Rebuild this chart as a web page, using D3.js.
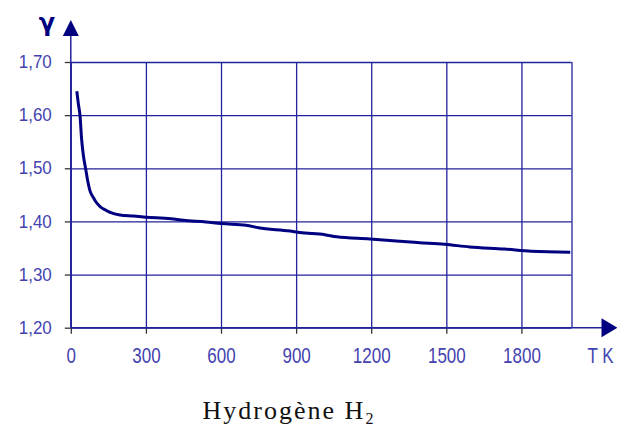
<!DOCTYPE html>
<html>
<head>
<meta charset="utf-8">
<script src="https://cdn.jsdelivr.net/npm/d3@7"></script>
<style>
  body { margin: 0; background: #fff; }
  svg { display: block; }
</style>
</head>
<body>
<div id="chart"></div>
<script>
// temperature (K) and gamma
var temps = [24, 30, 37, 43, 50, 59, 68, 77, 90, 100, 117, 140, 157, 196, 250, 300, 400, 450, 540, 600, 700, 750, 875, 915, 1015, 1062, 1194, 1300, 1393, 1493, 1593, 1732, 1839, 1995];
var gammas = [1.645, 1.622, 1.598, 1.556, 1.525, 1.500, 1.475, 1.457, 1.445, 1.437, 1.428, 1.421, 1.417, 1.412, 1.410, 1.408, 1.405, 1.402, 1.399, 1.396, 1.393, 1.388, 1.382, 1.379, 1.375, 1.371, 1.367, 1.363, 1.360, 1.357, 1.352, 1.348, 1.344, 1.342];
var xTicks = [0, 300, 600, 900, 1200, 1500, 1800];
var yTicks = [1.20, 1.30, 1.40, 1.50, 1.60, 1.70];

var W = 617, H = 428;
var margin = {top: 62, right: 45.5, bottom: 100.3, left: 70.8};
var width = W - margin.left - margin.right,
    height = H - margin.top - margin.bottom;

var gridCol = "#22229a", labelCol = "#4343b0", curveCol = "#000080";

var svg = d3.select("#chart").append("svg")
    .attr("width", W).attr("height", H)
    .append("g")
    .attr("transform", "translate(" + margin.left + "," + margin.top + ")");

var x = d3.scaleLinear().domain([0, 2000]).range([0, width]);
var y = d3.scaleLinear().domain([1.20, 1.70]).range([height, 0]);

// horizontal grid + left ticks
svg.append("g")
    .call(d3.axisLeft(y).tickValues(yTicks).tickSize(-width).tickPadding(19)
        .tickFormat(function (d) { return d3.format(".2f")(d).replace(".", ","); }))
    .call(function (g) {
        g.select(".domain").remove();
        g.selectAll(".tick line").attr("stroke", gridCol).attr("stroke-width", 1.3);
        g.selectAll(".tick").append("line")
            .attr("x1", -6).attr("x2", 0).attr("stroke", "#333").attr("stroke-width", 1.3);
        g.selectAll(".tick text").attr("fill", labelCol)
            .style("font-family", "Liberation Sans, Arial, sans-serif").style("font-size", "17px")
            .attr("transform", "scale(1,1.1)").attr("dy", "0.3em");
    });

// vertical grid + bottom ticks (2000 is the right border, no label)
svg.append("g")
    .attr("transform", "translate(0," + height + ")")
    .call(d3.axisBottom(x).tickValues(xTicks.concat([2000])).tickSize(-height)
        .tickFormat(function (d) { return d === 2000 ? "" : d; }))
    .call(function (g) {
        g.select(".domain").remove();
        g.selectAll(".tick line").attr("stroke", gridCol).attr("stroke-width", 1.3);
        g.selectAll(".tick").filter(function (d) { return d !== 2000; }).append("line")
            .attr("y1", 0).attr("y2", 6).attr("stroke", "#333").attr("stroke-width", 1.3);
        g.selectAll(".tick text").attr("fill", labelCol)
            .style("font-family", "Liberation Sans, Arial, sans-serif").style("font-size", "17px")
            .attr("y", 0).attr("dy", "0.35em")
            .attr("transform", "translate(0,28) scale(1,1.25)");
    });

// axes with arrows
svg.append("line")
    .attr("x1", 0).attr("x2", 0).attr("y1", height).attr("y2", -30)
    .attr("stroke", gridCol).attr("stroke-width", 1.5);
svg.append("path")
    .attr("d", "M0,-42 L-8,-26 L8,-26 Z").attr("fill", curveCol);
svg.append("line")
    .attr("x1", 0).attr("x2", width + 32).attr("y1", height).attr("y2", height)
    .attr("stroke", gridCol).attr("stroke-width", 1.5);
svg.append("path")
    .attr("d", "M" + (width + 46) + "," + height + " L" + (width + 30) + "," + (height - 9.5) +
        " L" + (width + 30) + "," + (height + 9.5) + " Z")
    .attr("fill", curveCol);

// axis names
svg.append("text")
    .attr("x", -24).attr("y", -31)
    .attr("text-anchor", "middle")
    .attr("fill", curveCol)
    .style("font-family", "DejaVu Sans, sans-serif").style("font-size", "24px").style("font-weight", "bold")
    .text("γ");
svg.append("text")
    .attr("x", 0).attr("y", 0).attr("dy", "0.35em")
    .attr("transform", "translate(" + (width + 29) + "," + (height + 28) + ") scale(1,1.25)")
    .attr("text-anchor", "middle")
    .attr("fill", labelCol)
    .style("font-family", "Liberation Sans, Arial, sans-serif").style("font-size", "17px")
    .text("T K");

// data curve
var data = temps.map(function (t, i) { return {t: t, g: gammas[i]}; });
svg.append("path")
    .datum(data)
    .attr("fill", "none")
    .attr("stroke", curveCol)
    .attr("stroke-width", 3)
    .attr("d", d3.line()
        .x(function (d) { return x(d.t); })
        .y(function (d) { return y(d.g); })
        .curve(d3.curveMonotoneX));

// title
d3.select("#chart svg").append("text")
    .attr("x", 289).attr("y", 419)
    .attr("text-anchor", "middle")
    .attr("fill", "#111")
    .style("font-family", "Liberation Serif, Times New Roman, serif").style("font-size", "26px")
    .style("letter-spacing", "2px")
    .html("Hydrogène H<tspan dy='5' font-size='16'>2</tspan>");
</script>
</body>
</html>
